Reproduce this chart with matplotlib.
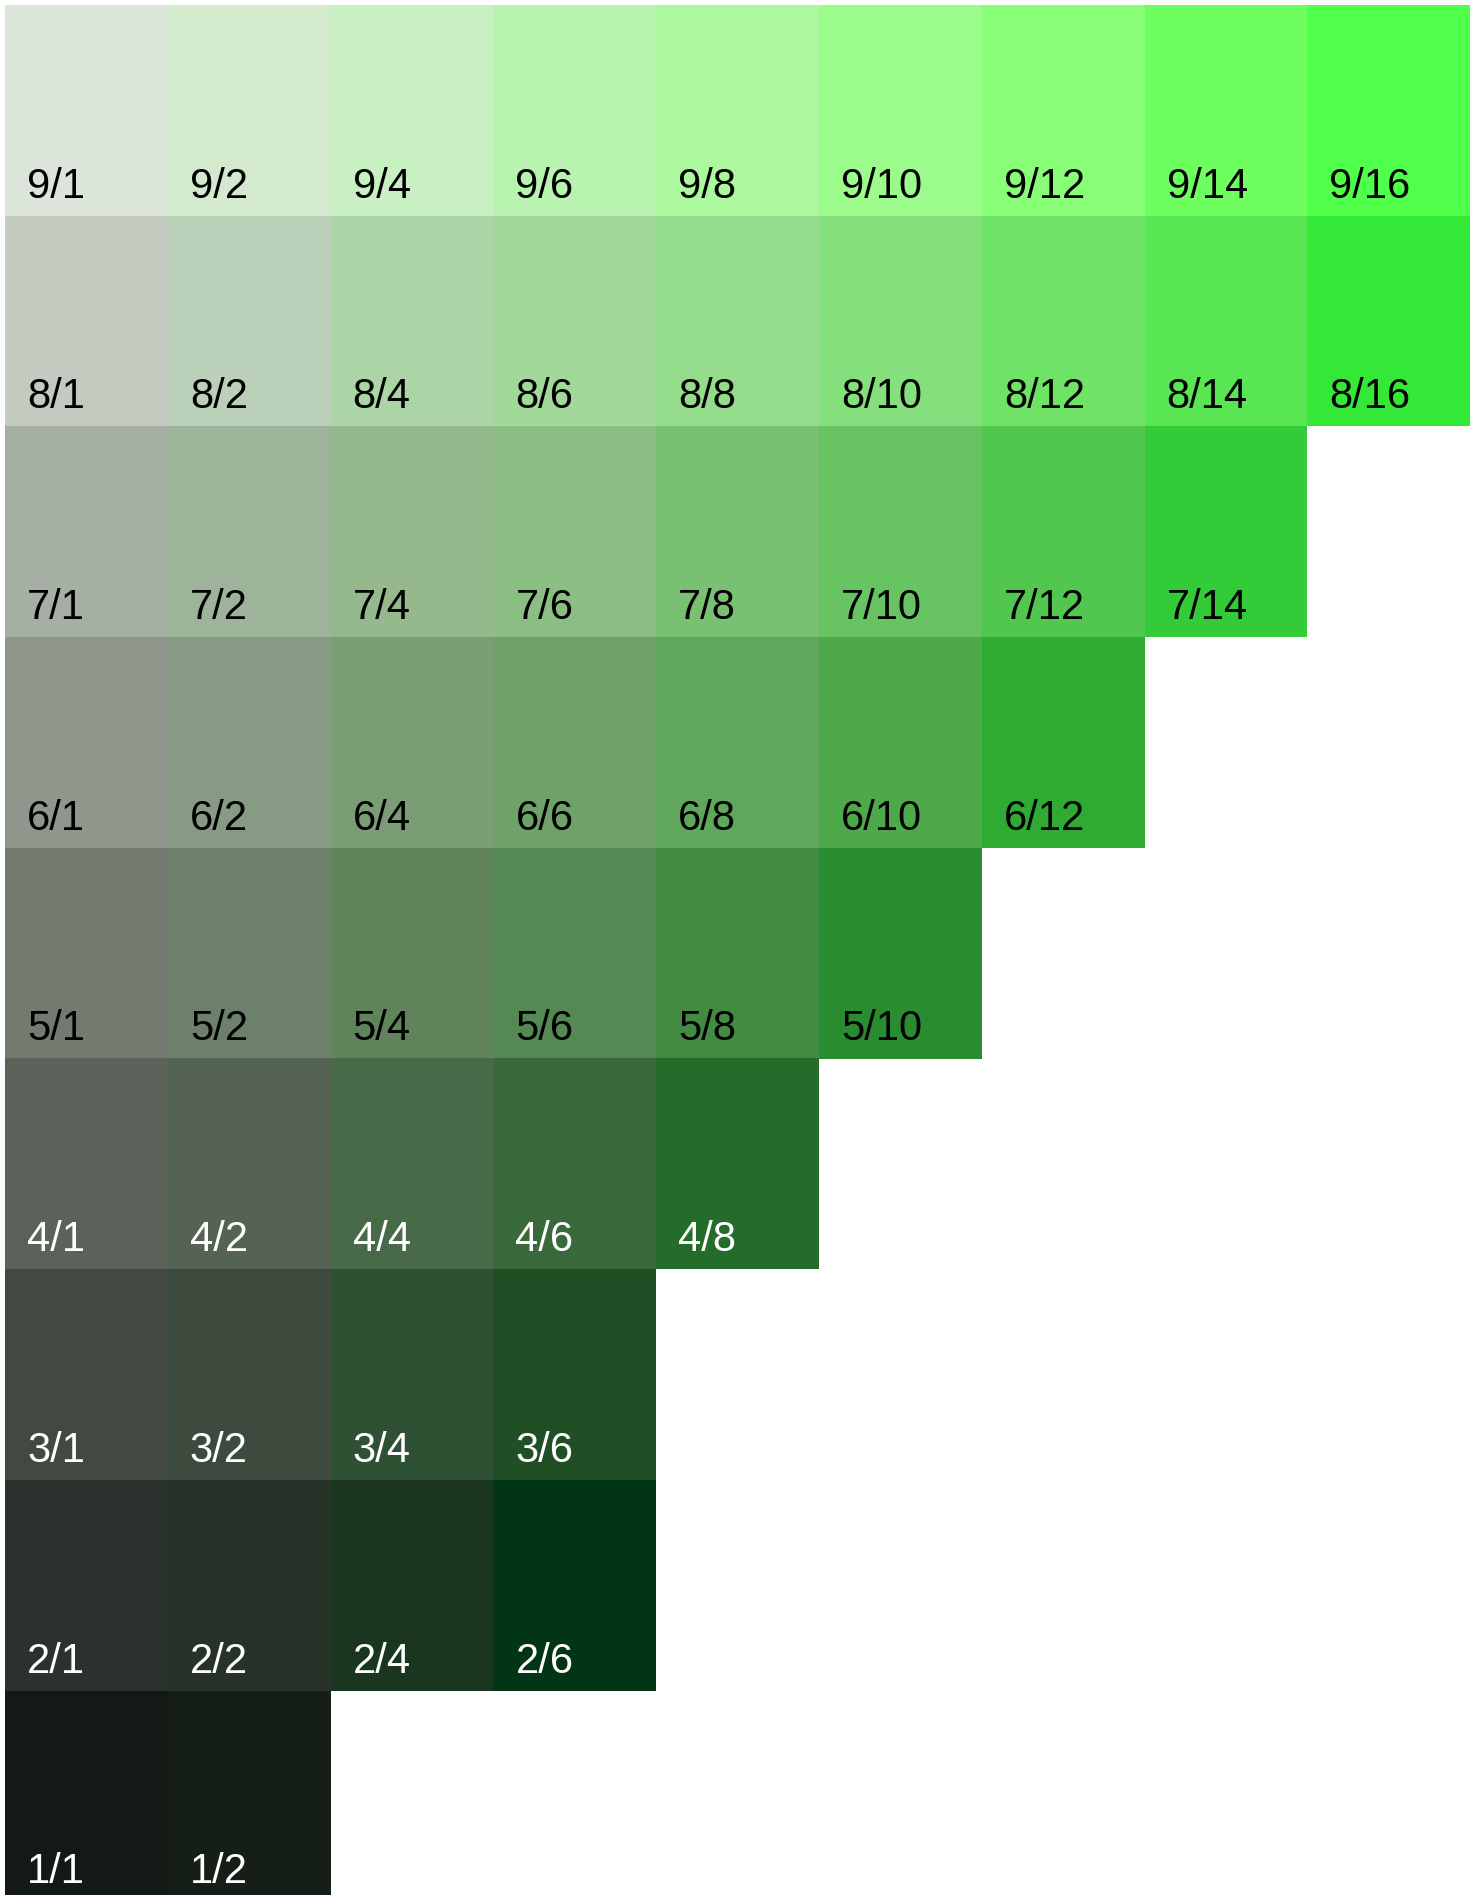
import matplotlib
matplotlib.use("Agg")
import matplotlib.pyplot as plt

# === Munsell value/chroma chips (green) ===
values = [9, 8, 7, 6, 5, 4, 3, 2, 1]
chromas = [
    [1, 2, 4, 6, 8, 10, 12, 14, 16],
    [1, 2, 4, 6, 8, 10, 12, 14, 16],
    [1, 2, 4, 6, 8, 10, 12, 14],
    [1, 2, 4, 6, 8, 10, 12],
    [1, 2, 4, 6, 8, 10],
    [1, 2, 4, 6, 8],
    [1, 2, 4, 6],
    [1, 2, 4, 6],
    [1, 2],
]
colors = [
    ["#dce5da", "#d3eacf", "#c8f0c3", "#b8f4b0", "#abf89f", "#9bfb8b", "#88fe76", "#6ffe60", "#50ff4a"],
    ["#c3cbc1", "#bbd0b8", "#acd5a7", "#a2d99b", "#94dc8b", "#85df7c", "#6fe366", "#58e653", "#33e837"],
    ["#a5afa3", "#9db39a", "#95b88d", "#8abe82", "#7ac073", "#68c462", "#52c74f", "#34cb38"],
    ["#8f978d", "#879a84", "#7b9d75", "#6fa268", "#5fa75a", "#4ea94b", "#2fab33"],
    ["#737b71", "#6c806b", "#60835c", "#558953", "#438a43", "#2a8c31"],
    ["#5a6259", "#556354", "#486a49", "#3a6a3c", "#236c2a"],
    ["#414941", "#3c4b3e", "#2e5033", "#204f26"],
    ["#2b322e", "#273229", "#1a361f", "#013514"],
    ["#131915", "#151f18"],
]

W, H = 1470, 1895
cell_w, cell_h = 162.8, 210.7

fig = plt.figure(figsize=(W / 100, H / 100), dpi=100)
# grid runs a few pixels past the bottom edge, as in the reference
top = H - 5
ax = fig.add_axes([5 / W, (top - 9 * cell_h) / H, 9 * cell_w / W, 9 * cell_h / H])
ax.set_xlim(-0.5, 8.5)
ax.set_ylim(0, 9)
ax.axis("off")

dx = 22 / cell_w
dy = 18 / cell_h
for v, cs, cols in zip(values, chromas, colors):
    xs = range(len(cs))
    ax.bar(xs, 1, bottom=v - 1, width=1, color=cols, linewidth=0)
    tc = "black" if v >= 5 else "white"
    for i, c in enumerate(cs):
        ax.text(i - 0.5 + dx, v - 1 + dy, f"{v}/{c}", color=tc,
                fontsize=30, family="Liberation Sans", va="baseline", ha="left")

fig.savefig("out.png", dpi=100)
